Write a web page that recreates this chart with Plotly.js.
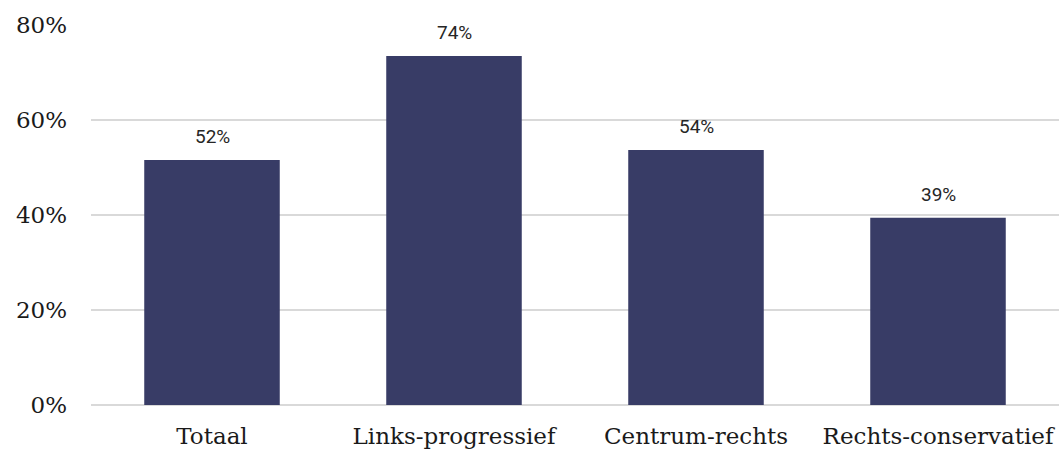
<!DOCTYPE html>
<html><head><meta charset="utf-8">
<script src="https://cdn.plot.ly/plotly-3.0.1.min.js"></script>
<style>html,body{margin:0;padding:0;background:#fff}#chart{width:1064px;height:450px}</style>
</head><body><div id="chart"></div>
<script>
const categories = ["Totaal", "Links-progressief", "Centrum-rechts", "Rechts-conservatief"];
const values = [51.6, 73.5, 53.7, 39.4];
const labels = ["52%", "74%", "54%", "39%"];
const yTicks = [0, 20, 40, 60, 80];
const yTickLabels = ["0%", "20%", "40%", "60%", "80%"];

const annotations = categories.map((c, i) => ({
  x: c, y: values[i], text: labels[i], showarrow: false,
  xanchor: 'center', yanchor: 'bottom', yshift: 10,
  font: {family: 'Roboto, sans-serif', size: 19, color: '#262626'}
}));

Plotly.newPlot('chart', [{
  type: 'bar', x: categories, y: values,
  marker: {color: '#383c66'}, hoverinfo: 'none'
}], {
  width: 1064, height: 450,
  margin: {l: 91, r: 5, t: 25, b: 45},
  bargap: 0.44,
  paper_bgcolor: '#fff', plot_bgcolor: '#fff',
  showlegend: false,
  xaxis: {type: 'category', showgrid: false, showline: false, zeroline: false,
    ticks: '', ticklabelstandoff: 15,
    tickfont: {family: 'DejaVu Serif, serif', size: 23, color: '#1a1a1a'}},
  yaxis: {range: [0, 80], tickvals: yTicks, ticktext: yTickLabels,
    showgrid: true, gridcolor: '#d9d9d9', gridwidth: 1.5,
    zeroline: true, zerolinecolor: '#d9d9d9', zerolinewidth: 1.5,
    showline: false, ticks: '', ticklabelstandoff: 23,
    tickfont: {family: 'DejaVu Serif, serif', size: 23, color: '#1a1a1a'}},
  annotations: annotations
}, {displayModeBar: false, staticPlot: true});
</script></body></html>
